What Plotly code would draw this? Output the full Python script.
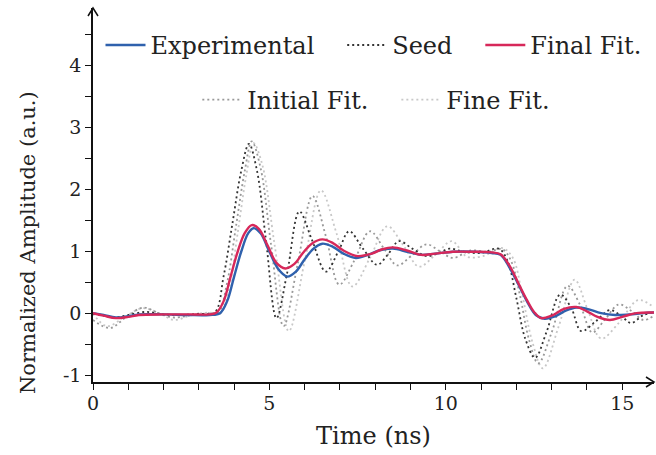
import plotly.graph_objects as go

# ---------------- data ----------------
exp_t = [0, 0.3, 0.65, 1.0, 1.3, 2.0, 2.7, 3.3, 3.6, 3.8, 4.0, 4.2, 4.4, 4.55, 4.75, 5.0, 5.25, 5.5, 5.75,
         6.0, 6.25, 6.5, 6.8, 7.1, 7.45, 7.8, 8.1, 8.5, 8.9, 9.3, 9.7, 10.2, 10.8, 11.3, 11.55, 11.8, 12.05,
         12.3, 12.55, 12.8, 13.1, 13.4, 13.7, 14.0, 14.4, 14.8, 15.2, 15.6, 15.9]
exp_y = [0.01, -0.02, -0.06, -0.04, -0.01, -0.01, -0.02, -0.02, 0.01, 0.2, 0.6, 1.0, 1.3, 1.38, 1.3, 1.0,
         0.72, 0.6, 0.68, 0.88, 1.05, 1.13, 1.08, 0.97, 0.9, 0.95, 1.02, 1.05, 1.0, 0.95, 0.97, 1.0, 1.0,
         0.98, 0.95, 0.75, 0.48, 0.2, -0.02, -0.08, -0.04, 0.05, 0.1, 0.08, 0.01, -0.02, -0.01, 0.01, 0.02]

fin_t = [0, 0.3, 0.65, 1.0, 1.3, 2.0, 2.7, 3.3, 3.5, 3.7, 3.9, 4.1, 4.3, 4.5, 4.7, 4.95, 5.2, 5.45, 5.7,
         5.95, 6.2, 6.5, 6.8, 7.1, 7.5, 7.9, 8.2, 8.5, 8.9, 9.3, 9.7, 10.2, 10.8, 11.3, 11.55, 11.8, 12.05,
         12.3, 12.5, 12.7, 13.0, 13.35, 13.7, 14.0, 14.3, 14.65, 15.0, 15.4, 15.9]
fin_y = [0.01, -0.03, -0.07, -0.05, -0.02, -0.01, -0.01, -0.01, 0.02, 0.2, 0.6, 1.0, 1.3, 1.43, 1.37, 1.1,
         0.82, 0.73, 0.8, 0.98, 1.13, 1.2, 1.14, 1.02, 0.93, 0.97, 1.04, 1.07, 1.02, 0.95, 0.97, 1.0, 1.0,
         0.99, 0.96, 0.78, 0.5, 0.22, 0.03, -0.07, -0.03, 0.08, 0.11, 0.04, -0.05, -0.1, -0.05, 0.01, 0.02]

seed_t = [0, 0.3, 0.6, 1.0, 1.5, 2.0, 2.5, 3.0, 3.45, 3.7, 3.95, 4.2, 4.42, 4.65, 4.9, 5.2, 5.5, 5.85,
          6.2, 6.6, 6.95, 7.26, 7.65, 8.05, 8.35, 8.67, 9.05, 9.45, 9.8, 10.1, 10.5, 11.0, 11.5, 11.75,
          12.0, 12.25, 12.53, 12.85, 13.24, 13.55, 13.84, 14.25, 14.65, 15.0, 15.25, 15.6, 15.9]
seed_y = [0.0, -0.03, -0.06, -0.02, 0.03, -0.01, -0.02, 0.0, 0.02, 0.6, 1.45, 2.3, 2.74, 2.3, 1.2, -0.07,
          0.65, 1.65, 1.2, 0.68, 1.0, 1.33, 1.05, 0.79, 0.95, 1.17, 1.05, 0.93, 0.98, 1.05, 1.0, 0.98,
          1.05, 0.85, 0.25, -0.4, -0.71, -0.3, 0.31, 0.1, -0.28, -0.12, 0.06, -0.05, -0.15, -0.02, 0.02]

init_t = [0, 0.48, 0.95, 1.42, 1.9, 2.3, 2.8, 3.3, 3.55, 3.8, 4.05, 4.3, 4.5, 4.75, 5.05, 5.4, 5.8,
          6.22, 6.6, 6.98, 7.4, 7.85, 8.25, 8.62, 9.05, 9.45, 9.85, 10.2, 10.7, 11.2, 11.6, 11.85, 12.1,
          12.35, 12.62, 13.0, 13.45, 13.8, 14.15, 14.5, 14.9, 15.25, 15.6, 15.9]
init_y = [-0.1, -0.23, -0.05, 0.1, 0.0, -0.06, -0.02, 0.01, 0.02, 0.5, 1.4, 2.3, 2.78, 2.35, 1.1, -0.2,
          0.8, 1.9, 1.25, 0.47, 0.85, 1.33, 1.05, 0.78, 0.95, 1.12, 1.0, 0.9, 1.02, 1.0, 1.04, 0.85, 0.3,
          -0.4, -0.8, -0.3, 0.45, 0.15, -0.3, -0.1, 0.15, 0.05, -0.1, -0.03]

fine_t = [0, 0.4, 0.9, 1.4, 1.9, 2.3, 2.8, 3.3, 3.6, 3.85, 4.1, 4.35, 4.55, 4.8, 5.15, 5.55, 6.0, 6.46,
          6.9, 7.35, 7.85, 8.34, 8.8, 9.24, 9.7, 10.17, 10.6, 11.05, 11.6, 11.9, 12.15, 12.45, 12.75, 13.2,
          13.65, 14.0, 14.4, 14.9, 15.45, 15.9]
fine_y = [0.0, -0.2, -0.05, 0.09, 0.0, -0.1, -0.02, 0.02, 0.0, 0.4, 1.3, 2.25, 2.75, 2.4, 1.1, -0.28,
          0.85, 1.99, 1.3, 0.44, 0.9, 1.41, 1.1, 0.76, 0.95, 1.17, 0.92, 0.93, 1.06, 0.9, 0.35, -0.45, -0.88,
          -0.2, 0.55, 0.1, -0.4, -0.15, 0.22, 0.1]

x_ticks = [0, 5, 10, 15]
y_ticks = [-1, 0, 1, 2, 3, 4]
y_ticklabels = ["-1", "0", "1", "2", "3", "4"]

# ---------------- styling ----------------
FONT = "DejaVu Serif, Liberation Serif, serif"
BLUE = "#2f61ad"
RED = "#d7285a"
DOT = "2px,3px"
PAD = "\u00a0\u00a0\u00a0"

fig = go.Figure()

def add(t, y, name, color, width, dash, legend, rank):
    fig.add_trace(go.Scatter(
        x=t, y=y, mode="lines", name=name,
        line=dict(color=color, width=width, dash=dash, shape="spline", smoothing=1.0),
        legend=legend, legendrank=rank))

add(fine_t, fine_y, "Fine Fit.", "#c8c8c8", 1.8, DOT, "legend2", 2)
add(init_t, init_y, "Initial Fit." + PAD, "#999999", 1.8, DOT, "legend2", 1)
add(seed_t, seed_y, "Seed" + PAD, "#333333", 1.8, DOT, "legend", 2)
add(exp_t, exp_y, "Experimental" + PAD, BLUE, 2.4, "solid", "legend", 1)
add(fin_t, fin_y, "Final Fit.", RED, 2.4, "solid", "legend", 3)

axis_common = dict(
    showline=True, linecolor="#111", linewidth=1.5, showgrid=False, zeroline=False,
    ticks="outside", ticklen=6, tickwidth=1.2, tickcolor="#111",
    tickfont=dict(family=FONT, size=19, color="#222"),
)

fig.update_xaxes(
    range=[0, 15.9], tickvals=x_ticks, ticktext=[str(v) for v in x_ticks],
    ticklabelstandoff=-3,
    minor=dict(dtick=1, tick0=0, ticks="outside", ticklen=6, tickwidth=1.2, tickcolor="#111"),
    title=dict(text="Time (ns)", font=dict(family=FONT, size=24, color="#222"), standoff=15),
    **axis_common)
fig.update_yaxes(
    range=[-1.1, 4.93], tickvals=y_ticks, ticktext=y_ticklabels,
    minor=dict(dtick=0.5, tick0=0, ticks="outside", ticklen=6, tickwidth=1.2, tickcolor="#111"),
    **axis_common)

legend_font = dict(family=FONT, size=24, color="#222")
fig.update_layout(
    width=656, height=455,
    margin=dict(l=93, r=2, t=8, b=73),
    paper_bgcolor="white", plot_bgcolor="white",
    legend=dict(orientation="h", x=0.50, y=0.90, xanchor="center", yanchor="middle",
                font=legend_font, bgcolor="rgba(0,0,0,0)", itemwidth=40, traceorder="normal"),
    legend2=dict(orientation="h", x=0.505, y=0.754, xanchor="center", yanchor="middle",
                 font=legend_font, bgcolor="rgba(0,0,0,0)", itemwidth=40, traceorder="normal"),
    showlegend=True,
)

# y-axis title (placed as in the reference, slightly below the axis centre)
fig.add_annotation(text="Normalized Amplitude (a.u.)", xref="paper", yref="paper",
                   x=-0.116, y=0.374, xanchor="center", yanchor="middle", textangle=-90,
                   showarrow=False, font=dict(family=FONT, size=21, color="#222"))

# arrow heads on axis ends
fig.add_shape(type="path", xref="paper", yref="paper", xsizemode="pixel", ysizemode="pixel",
              xanchor=0, yanchor=1, path="M -5 -8 L 0 0 L 5 -8",
              line=dict(color="#111", width=1.5))
fig.add_shape(type="path", xref="paper", yref="paper", xsizemode="pixel", ysizemode="pixel",
              xanchor=1, yanchor=0, path="M -8 5 L 0 0 L -8 -5",
              line=dict(color="#111", width=1.5))

fig.write_html("out.html")
